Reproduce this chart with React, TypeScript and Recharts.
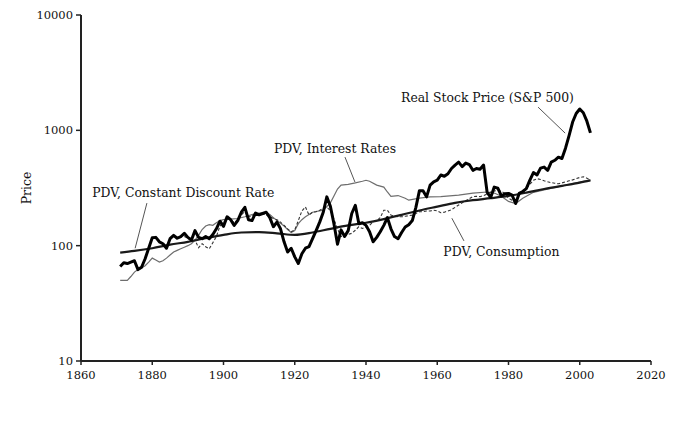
import React from 'react';
import { LineChart, Line, XAxis, YAxis, ReferenceLine, ReferenceDot } from 'recharts';

const FONT = '"DejaVu Serif", "Liberation Serif", serif';
const TXT = '#111';

const xTicks = [1860, 1880, 1900, 1920, 1940, 1960, 1980, 2000, 2020];
const yTicks = [10, 100, 1000, 10000];

const stockYears = [
  1871, 1872, 1873, 1874, 1875, 1876, 1877, 1878, 1879, 1880,
  1881, 1882, 1883, 1884, 1885, 1886, 1887, 1888, 1889, 1890,
  1891, 1892, 1893, 1894, 1895, 1896, 1897, 1898, 1899, 1900,
  1901, 1902, 1903, 1904, 1905, 1906, 1907, 1908, 1909, 1910,
  1911, 1912, 1913, 1914, 1915, 1916, 1917, 1918, 1919, 1920,
  1921, 1922, 1923, 1924, 1925, 1926, 1927, 1928, 1929, 1930,
  1931, 1932, 1933, 1934, 1935, 1936, 1937, 1938, 1939, 1940,
  1941, 1942, 1943, 1944, 1945, 1946, 1947, 1948, 1949, 1950,
  1951, 1952, 1953, 1954, 1955, 1956, 1957, 1958, 1959, 1960,
  1961, 1962, 1963, 1964, 1965, 1966, 1967, 1968, 1969, 1970,
  1971, 1972, 1973, 1974, 1975, 1976, 1977, 1978, 1979, 1980,
  1981, 1982, 1983, 1984, 1985, 1986, 1987, 1988, 1989, 1990,
  1991, 1992, 1993, 1994, 1995, 1996, 1997, 1998, 1999, 2000,
  2001, 2002, 2003,
];
const stockPrice = [
  66, 71, 70, 72, 74, 62, 65, 77, 95, 117,
  118, 108, 104, 95, 115, 123, 116, 120, 128, 118,
  112, 135, 118, 115, 120, 115, 125, 140, 163, 147,
  178, 168, 150, 165, 195, 215, 168, 165, 192, 185,
  190, 195, 175, 146, 160, 140, 108, 88, 95, 80,
  70, 85, 95, 98, 115, 135, 160, 195, 265, 220,
  155, 103, 137, 120, 135, 190, 224, 155, 158, 150,
  132, 108, 118, 132, 150, 175, 140, 120, 115, 130,
  145, 152, 165, 215, 300, 300, 265, 335, 358, 370,
  410, 400, 420, 467, 500, 530, 485, 520, 505, 450,
  467, 460, 500, 290, 262, 322, 315, 270, 282, 284,
  274, 232, 284, 295, 312, 370, 430, 410, 470, 480,
  450, 530, 550, 585, 570, 700, 900, 1180, 1400, 1530,
  1420, 1200, 950,
];

const constYears = [
  1871, 1875, 1880, 1885, 1890, 1895, 1900, 1905, 1910, 1915,
  1920, 1925, 1930, 1935, 1940, 1945, 1950, 1955, 1960, 1965,
  1970, 1975, 1980, 1985, 1990, 1995, 2000, 2003,
];
const constPDV = [
  87, 90, 95, 102, 108, 116, 124, 130, 131, 128,
  124, 130, 140, 150, 158, 170, 185, 202, 218, 235,
  248, 258, 270, 288, 310, 330, 352, 368,
];

const rateYears = [
  1871, 1873, 1874, 1875, 1876, 1877, 1878, 1879, 1880, 1881,
  1882, 1883, 1884, 1885, 1886, 1887, 1888, 1889, 1890, 1891,
  1892, 1893, 1894, 1895, 1896, 1897, 1898, 1899, 1900, 1902,
  1904, 1906, 1908, 1910, 1912, 1913, 1914, 1915, 1916, 1917,
  1918, 1919, 1920, 1921, 1922, 1923, 1925, 1928, 1930, 1931,
  1932, 1933, 1935, 1937, 1939, 1940, 1941, 1943, 1945, 1946,
  1947, 1949, 1951, 1952, 1955, 1958, 1961, 1966, 1970, 1974,
  1976, 1978, 1980, 1982, 1984, 1987, 1990, 1995, 2000, 2003,
];
const ratePDV = [
  50, 50, 54, 59, 62, 64, 67, 72, 78, 75,
  72, 74, 78, 83, 88, 91, 94, 97, 100, 104,
  112, 123, 138, 148, 152, 150, 158, 165, 168, 170,
  172, 178, 186, 192, 194, 186, 175, 165, 156, 148,
  138, 130, 135, 155, 168, 178, 195, 203, 235, 270,
  310, 335, 340, 350, 362, 369, 362, 335, 322, 292,
  268, 272, 258, 248, 258, 265, 266, 274, 285, 292,
  286, 268, 242, 232, 258, 290, 305, 330, 355, 370,
];

const consYears = [
  1889, 1890, 1891, 1892, 1893, 1894, 1895, 1896, 1897, 1898,
  1899, 1900, 1901, 1902, 1903, 1904, 1905, 1906, 1907, 1908,
  1909, 1910, 1911, 1912, 1913, 1914, 1915, 1916, 1917, 1918,
  1919, 1920, 1921, 1922, 1923, 1924, 1925, 1926, 1927, 1928,
  1929, 1930, 1931, 1932, 1933, 1934, 1935, 1936, 1937, 1938,
  1939, 1940, 1941, 1942, 1943, 1944, 1945, 1946, 1947, 1948,
  1949, 1950, 1951, 1952, 1953, 1954, 1955, 1956, 1957, 1958,
  1959, 1960, 1961, 1962, 1963, 1964, 1965, 1966, 1967, 1968,
  1969, 1970, 1971, 1972, 1973, 1974, 1975, 1976, 1977, 1978,
  1979, 1980, 1981, 1982, 1983, 1984, 1985, 1986, 1987, 1988,
  1989, 1990, 1991, 1992, 1993, 1994, 1995, 1996, 1997, 1998,
  1999, 2000, 2001, 2002, 2003,
];
const consPDV = [
  120, 116, 110, 112, 96, 104, 98, 94, 106, 120,
  148, 158, 172, 168, 158, 168, 185, 198, 178, 180,
  190, 190, 188, 185, 178, 172, 168, 160, 150, 140,
  132, 137, 165, 200, 217, 184, 195, 197, 203, 210,
  217, 200, 170, 140, 120, 122, 125, 128, 136, 146,
  141, 145, 150, 161, 165, 175, 203, 203, 184, 180,
  178, 178, 180, 182, 184, 190, 197, 197, 200, 200,
  203, 200, 193, 195, 200, 205, 215, 225, 235, 245,
  255, 266, 268, 266, 272, 280, 292, 298, 302, 295,
  284, 258, 248, 240, 280, 295, 313, 340, 369, 381,
  375, 365, 358, 352, 348, 344, 350, 358, 365, 372,
  381, 390, 396, 385, 369,
];

const toRows = (years: number[], vals: number[]) =>
  years.map((year, i) => ({ year, value: vals[i] }));

const stockData = toRows(stockYears, stockPrice);
const constData = toRows(constYears, constPDV);
const rateData = toRows(rateYears, ratePDV);
const consData = toRows(consYears, consPDV);

// annotation anchors in data space
const annotations = [
  { text: 'PDV, Constant Discount Rate', lx: 1888.7, ly: 286, x1: 1878.5, y1: 234, x2: 1875.2, y2: 95 },
  { text: 'PDV, Interest Rates', lx: 1931.3, ly: 697, x1: 1934.1, y1: 586, x2: 1936.9, y2: 356 },
  { text: 'Real Stock Price (S&P 500)', lx: 1974.1, ly: 1928, x1: 1988.3, y1: 1589, x2: 1995.9, y2: 946 },
  { text: 'PDV, Consumption', lx: 1978.0, ly: 88, x1: 1964.1, y1: 173, x2: 1967.5, y2: 110 },
];

export default function App() {
  return (
    <div style={{ position: 'absolute', left: 0, top: 0, width: 690, height: 430, background: '#fff' }}>
      <LineChart width={690} height={430} margin={{ top: 15, right: 39, bottom: 39, left: 21 }}>
        <XAxis
          type="number"
          dataKey="year"
          domain={[1860, 2020]}
          ticks={xTicks}
          allowDataOverflow
          axisLine={{ stroke: '#222', strokeWidth: 2 }}
          tickLine={{ stroke: '#222', strokeWidth: 1.5 }}
          tickSize={4}
          tickMargin={6}
          height={30}
          tick={{ fill: TXT, fontSize: 11.5, fontFamily: FONT }}
        />
        <YAxis
          type="number"
          scale="log"
          domain={[10, 10000]}
          ticks={yTicks}
          allowDataOverflow
          axisLine={{ stroke: '#222', strokeWidth: 2 }}
          tickLine={{ stroke: '#222', strokeWidth: 1.5 }}
          tickSize={5}
          tickMargin={3}
          width={60}
          tick={{ fill: TXT, fontSize: 11.5, fontFamily: FONT }}
          label={{
            value: 'Price',
            angle: -90,
            position: 'insideLeft',
            offset: 0,
            dx: 6,
            style: { fill: TXT, fontSize: 12.4, fontFamily: FONT, textAnchor: 'middle' },
          }}
        />
        <Line data={rateData} dataKey="value" type="linear" stroke="#6e6e6e" strokeWidth={1.2} dot={false} isAnimationActive={false} />
        <Line data={consData} dataKey="value" type="linear" stroke="#333" strokeWidth={1.1} strokeDasharray="3 2" dot={false} isAnimationActive={false} />
        <Line data={constData} dataKey="value" type="monotone" stroke="#1a1a1a" strokeWidth={2.2} dot={false} isAnimationActive={false} />
        <Line data={stockData} dataKey="value" type="linear" stroke="#000" strokeWidth={3} strokeLinejoin="round" dot={false} isAnimationActive={false} />
        {annotations.map((a) => (
          <ReferenceLine
            key={'l' + a.text}
            segment={[{ x: a.x1, y: a.y1 }, { x: a.x2, y: a.y2 }]}
            stroke="#555"
            strokeWidth={1}
          />
        ))}
        {annotations.map((a) => (
          <ReferenceDot
            key={'t' + a.text}
            x={a.lx}
            y={a.ly}
            r={1}
            fill="none"
            stroke="none"
            label={{ value: a.text, position: 'center', fill: TXT, fontSize: 12.4, fontFamily: FONT }}
          />
        ))}
      </LineChart>
    </div>
  );
}
